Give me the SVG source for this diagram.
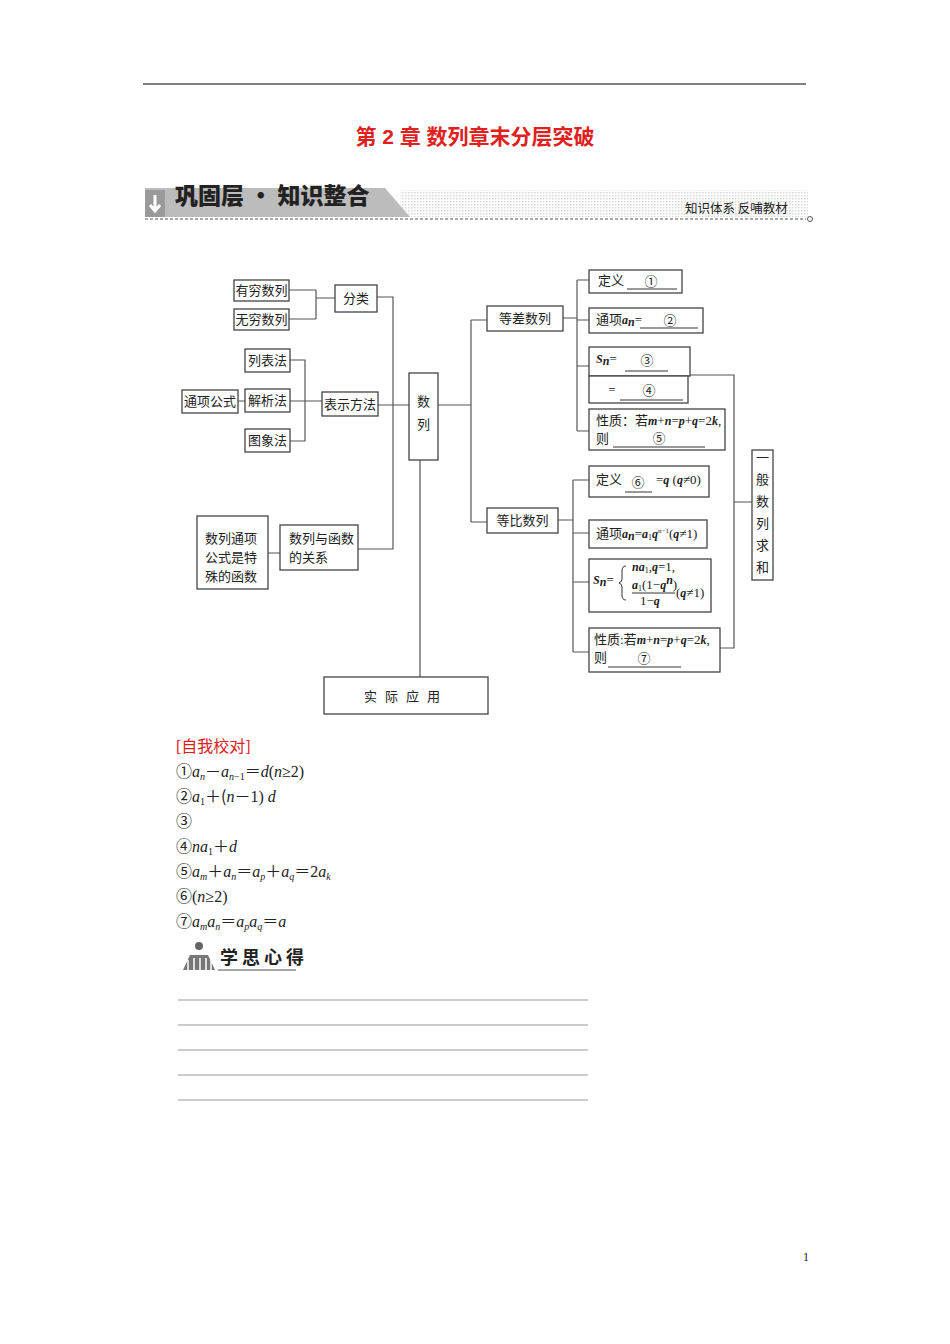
<svg xmlns="http://www.w3.org/2000/svg" width="950" height="1344" viewBox="0 0 950 1344">
<defs>
<pattern id="dots" width="3" height="3" patternUnits="userSpaceOnUse"><rect width="1.5" height="1.5" fill="#d8d8d8"/></pattern>
</defs>
<style>
.b{fill:#fff;stroke:#444;stroke-width:1.3}
.t{font-family:"Liberation Serif","Noto Sans CJK SC",serif;font-size:13px;fill:#222}
.m{font-family:"Liberation Serif","Noto Sans CJK SC",serif;font-size:12px;font-style:italic;font-weight:bold;fill:#222}
.c{fill:none;stroke:#555;stroke-width:1.2}
.u{stroke:#333;stroke-width:1}
.a{font-family:"Liberation Serif","Noto Sans CJK SC",serif;font-size:16px;fill:#222}
.i{font-style:italic}
.k{font-family:"Noto Sans CJK SC",sans-serif}
</style>
<rect width="950" height="1344" fill="#fff"/>
<line x1="143" y1="84" x2="806" y2="84" stroke="#000" stroke-width="1"/>
<text x="475" y="144" text-anchor="middle" font-family="Liberation Sans,'Noto Sans CJK SC',sans-serif" font-size="21" font-weight="bold" fill="#e0201c">第 2 章  数列章末分层突破</text>
<g id="banner">
<rect x="400" y="190" width="408" height="27" fill="url(#dots)"/>
<polygon points="145,188 385,188 410,217 145,217" fill="#bcbcbc"/>
<rect x="145" y="190" width="20" height="27" fill="#9a9a9a"/>
<path d="M155,195 v14 M150,205 l5,6 l5,-6" stroke="#fff" stroke-width="3" fill="none"/>
<text x="175" y="204" font-family="'Noto Sans CJK SC',sans-serif" font-size="23" font-weight="900" fill="#222">巩固层 · 知识整合</text>
<text x="685" y="213" font-family="'Noto Sans CJK SC',sans-serif" font-size="12.5" fill="#222">知识体系  反哺教材</text>
<line x1="145" y1="219" x2="806" y2="219" stroke="#555" stroke-dasharray="3,2"/>
<circle cx="810" cy="219" r="2.5" fill="none" stroke="#555"/>
</g>
<g id="connectors">
<path class="c" d="M289,290H316M289,319H316M316,290V319M316,298H335"/>
<path class="c" d="M377,297H393V549H358M378,405H409"/>
<path class="c" d="M290,360H305V441H290M290,401H322M238,401H245M268,553H280"/>
<path class="c" d="M438,405H471M471,320V522M471,320H487M471,522H487M420,460V677"/>
<path class="c" d="M563,318H577M577,280V431M577,280H589M577,320H589M577,366H589M577,431H589"/>
<path class="c" d="M558,520H573M573,480V652M573,480H589M573,533H589M573,582H589M573,652H589"/>
<path class="c" d="M690,375H734V648H720M734,502H752"/>
</g>
<g id="n1"><rect class="b" x="234" y="280" width="55" height="21"/><text class="t" x="261.5" y="295" text-anchor="middle">有穷数列</text></g>
<g id="n2"><rect class="b" x="234" y="309" width="55" height="21"/><text class="t" x="261.5" y="324" text-anchor="middle">无穷数列</text></g>
<g id="n3"><rect class="b" x="335" y="285" width="42" height="27"/><text class="t" x="356" y="303" text-anchor="middle">分类</text></g>
<g id="n4"><rect class="b" x="245" y="349" width="45" height="23"/><text class="t" x="267.5" y="365" text-anchor="middle">列表法</text></g>
<g id="n5"><rect class="b" x="245" y="389" width="45" height="23"/><text class="t" x="267.5" y="405" text-anchor="middle">解析法</text></g>
<g id="n6"><rect class="b" x="245" y="429" width="45" height="23"/><text class="t" x="267.5" y="445" text-anchor="middle">图象法</text></g>
<g id="n7"><rect class="b" x="182" y="390" width="56" height="23"/><text class="t" x="210" y="406" text-anchor="middle">通项公式</text></g>
<g id="n8"><rect class="b" x="322" y="392" width="56" height="24"/><text class="t" x="350" y="409" text-anchor="middle">表示方法</text></g>
<g id="n9"><rect class="b" x="409" y="373" width="29" height="87"/><text class="t" x="423.5" y="406" text-anchor="middle">数</text><text class="t" x="423.5" y="429" text-anchor="middle">列</text></g>
<g id="n10"><rect class="b" x="280" y="525" width="78" height="45"/><text class="t" x="289" y="543">数列与函数</text><text class="t" x="289" y="562">的关系</text></g>
<g id="n11"><rect class="b" x="197" y="516" width="71" height="73"/><text class="t" x="205" y="543">数列通项</text><text class="t" x="205" y="562">公式是特</text><text class="t" x="205" y="581">殊的函数</text></g>
<g id="n12"><rect class="b" x="324" y="677" width="164" height="37"/><text class="t" x="406" y="701" text-anchor="middle" letter-spacing="8">实际应用</text></g>
<g id="n13"><rect class="b" x="487" y="306" width="76" height="25"/><text class="t" x="525" y="323" text-anchor="middle">等差数列</text></g>
<g id="n14"><rect class="b" x="487" y="508" width="71" height="25"/><text class="t" x="522.5" y="525" text-anchor="middle">等比数列</text></g>
<g id="n15"><rect class="b" x="589" y="270" width="93" height="23"/><text class="t" x="598" y="285">定义</text><text class="t k" x="651" y="286" text-anchor="middle">①</text><line class="u" x1="627" y1="289" x2="677" y2="289"/></g>
<g id="n16"><rect class="b" x="589" y="308" width="114" height="25"/><text class="t" x="596" y="324">通项<tspan class="m">a</tspan><tspan class="m" font-size="8" dy="2">n</tspan><tspan dy="-2">=</tspan></text><text class="t k" x="670" y="325" text-anchor="middle">②</text><line class="u" x1="640" y1="328" x2="698" y2="328"/></g>
<g id="n17"><rect class="b" x="589" y="347" width="101" height="29"/><text class="t" x="596" y="363"><tspan class="m">S</tspan><tspan class="m" font-size="8" dy="2">n</tspan><tspan dy="-2">=</tspan></text><text class="t k" x="647" y="365" text-anchor="middle">③</text><line class="u" x1="625" y1="371" x2="668" y2="371"/>
<rect class="b" x="589" y="376" width="99" height="27"/><text class="t" x="612" y="394" text-anchor="middle">=</text><text class="t k" x="649" y="395" text-anchor="middle">④</text><line class="u" x1="620" y1="400" x2="683" y2="400"/></g>
<g id="n18"><rect class="b" x="589" y="409" width="136" height="41"/><text class="t" x="596" y="425">性质：若<tspan class="m">m</tspan>+<tspan class="m">n</tspan>=<tspan class="m">p</tspan>+<tspan class="m">q</tspan>=2<tspan class="m">k</tspan>,</text><text class="t" x="596" y="443">则</text><text class="t k" x="659" y="443" text-anchor="middle">⑤</text><line class="u" x1="613" y1="447" x2="705" y2="447"/></g>
<g id="n19"><rect class="b" x="589" y="466" width="120" height="31"/><text class="t" x="596" y="484">定义</text><text class="t k" x="638" y="487" text-anchor="middle">⑥</text><line class="u" x1="625" y1="492" x2="652" y2="492"/><text class="t" x="656" y="484">=<tspan class="m">q</tspan> (<tspan class="m">q</tspan>≠0)</text></g>
<g id="n20"><rect class="b" x="589" y="520" width="118" height="28"/><text class="t" x="596" y="538">通项<tspan class="m">a</tspan><tspan class="m" font-size="8" dy="2">n</tspan><tspan dy="-2">=</tspan><tspan class="m">a</tspan><tspan font-size="8" dy="2">1</tspan><tspan class="m" dy="-2">q</tspan><tspan font-size="7" dy="-5">n−1</tspan><tspan dy="5">(</tspan><tspan class="m">q</tspan>≠1)</text></g>
<g id="n21"><rect class="b" x="589" y="559" width="122" height="53"/><text class="t" x="593" y="584"><tspan class="m">S</tspan><tspan class="m" font-size="8" dy="2">n</tspan><tspan dy="-2">=</tspan></text><path d="M626,566 q-4,0 -4,5 v8 q0,3 -3,4 q3,1 3,4 v8 q0,5 4,5" fill="none" stroke="#333"/><text class="t" x="632" y="571"><tspan class="m">na</tspan><tspan font-size="8" dy="2">1</tspan><tspan dy="-2">,</tspan><tspan class="m">q</tspan>=1,</text><text class="t" x="632" y="589"><tspan class="m">a</tspan><tspan font-size="8" dy="2">1</tspan><tspan dy="-2">(1−</tspan><tspan class="m">q</tspan><tspan font-size="7" class="m" dy="-5">n</tspan><tspan dy="5">)</tspan></text><line class="u" x1="632" y1="593" x2="675" y2="593"/><text class="t" x="640" y="605">1−<tspan class="m">q</tspan></text><text class="t" x="676" y="597">(<tspan class="m">q</tspan>≠1)</text></g>
<g id="n22"><rect class="b" x="589" y="628" width="131" height="44"/><text class="t" x="594" y="644">性质:若<tspan class="m">m</tspan>+<tspan class="m">n</tspan>=<tspan class="m">p</tspan>+<tspan class="m">q</tspan>=2<tspan class="m">k</tspan>,</text><text class="t" x="594" y="662">则</text><text class="t k" x="644" y="663" text-anchor="middle">⑦</text><line class="u" x1="608" y1="667" x2="681" y2="667"/></g>
<g id="n23"><rect class="b" x="752" y="450" width="21" height="130"/><text class="t" x="762.5" y="462" text-anchor="middle">一</text><text class="t" x="762.5" y="484" text-anchor="middle">般</text><text class="t" x="762.5" y="506" text-anchor="middle">数</text><text class="t" x="762.5" y="528" text-anchor="middle">列</text><text class="t" x="762.5" y="550" text-anchor="middle">求</text><text class="t" x="762.5" y="572" text-anchor="middle">和</text></g>
<g id="answers">
<text class="a" x="176" y="752" style="fill:#e0201c">[自我校对]</text>
<text class="a" x="176" y="777"><tspan class="k">①</tspan><tspan class="i">a</tspan><tspan class="i" font-size="10" dy="3">n</tspan><tspan class="k" dy="-3">－</tspan><tspan class="i">a</tspan><tspan class="i" font-size="10" dy="3">n</tspan><tspan font-size="10">−1</tspan><tspan class="k" dy="-3">＝</tspan><tspan class="i">d</tspan>(<tspan class="i">n</tspan>≥2)</text>
<text class="a" x="176" y="802"><tspan class="k">②</tspan><tspan class="i">a</tspan><tspan font-size="10" dy="3">1</tspan><tspan class="k" dy="-3">＋(</tspan><tspan class="i">n</tspan><tspan class="k">－</tspan>1) <tspan class="i">d</tspan></text>
<text class="a" x="176" y="827"><tspan class="k">③</tspan></text>
<text class="a" x="176" y="852"><tspan class="k">④</tspan><tspan class="i">na</tspan><tspan font-size="10" dy="3">1</tspan><tspan class="k" dy="-3">＋</tspan><tspan class="i">d</tspan></text>
<text class="a" x="176" y="877"><tspan class="k">⑤</tspan><tspan class="i">a</tspan><tspan class="i" font-size="10" dy="3">m</tspan><tspan class="k" dy="-3">＋</tspan><tspan class="i">a</tspan><tspan class="i" font-size="10" dy="3">n</tspan><tspan class="k" dy="-3">＝</tspan><tspan class="i">a</tspan><tspan class="i" font-size="10" dy="3">p</tspan><tspan class="k" dy="-3">＋</tspan><tspan class="i">a</tspan><tspan class="i" font-size="10" dy="3">q</tspan><tspan class="k" dy="-3">＝</tspan>2<tspan class="i">a</tspan><tspan class="i" font-size="10" dy="3">k</tspan></text>
<text class="a" x="176" y="902"><tspan class="k">⑥</tspan>(<tspan class="i">n</tspan>≥2)</text>
<text class="a" x="176" y="927"><tspan class="k">⑦</tspan><tspan class="i">a</tspan><tspan class="i" font-size="10" dy="3">m</tspan><tspan class="i" dy="-3">a</tspan><tspan class="i" font-size="10" dy="3">n</tspan><tspan class="k" dy="-3">＝</tspan><tspan class="i">a</tspan><tspan class="i" font-size="10" dy="3">p</tspan><tspan class="i" dy="-3">a</tspan><tspan class="i" font-size="10" dy="3">q</tspan><tspan class="k" dy="-3">＝</tspan><tspan class="i">a</tspan></text>
</g>
<g id="xsxd">
<circle cx="199" cy="946" r="4" fill="#666"/>
<path d="M183,970 L190,955 H208 L215,970 Z" fill="#777"/>
<path d="M188,970 V960 M194,970 V958 M200,970 V958 M206,970 V958 M211,970 V960" stroke="#fff" stroke-width="1.5"/>
<text x="220" y="964" font-family="'Noto Sans CJK SC',sans-serif" font-size="18" font-weight="bold" fill="#222" letter-spacing="4">学思心得</text>
<line x1="218" y1="970" x2="296" y2="970" stroke="#888" stroke-width="1.5"/>
</g>
<g id="lines" stroke="#999" stroke-width="1">
<line x1="178" y1="1000" x2="588" y2="1000"/><line x1="178" y1="1025" x2="588" y2="1025"/><line x1="178" y1="1050" x2="588" y2="1050"/><line x1="178" y1="1075" x2="588" y2="1075"/><line x1="178" y1="1100" x2="588" y2="1100"/>
</g>
<text x="803" y="1261" font-family="Liberation Serif,serif" font-size="12" fill="#222">1</text>
</svg>
